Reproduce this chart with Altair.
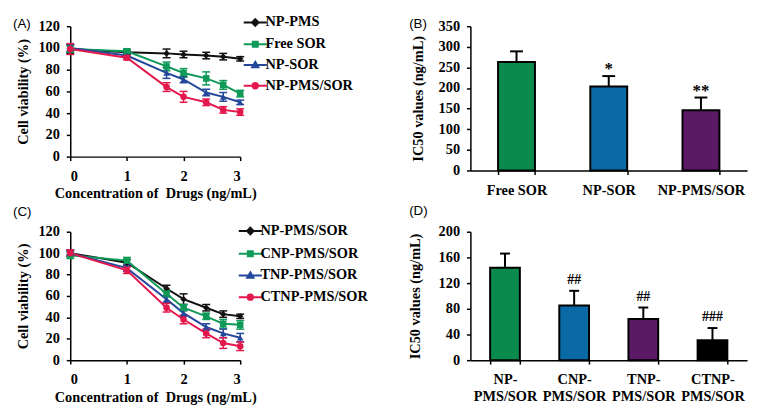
import altair as alt
import pandas as pd

# ---------------- data ----------------
conc = [0, 1, 1.7, 2, 2.4, 2.7, 3]

series_a = ["NP-PMS", "Free SOR", "NP-SOR", "NP-PMS/SOR"]
a_np_pms = [99, 96, 95, 94, 93, 92, 90]
a_np_pms_err = [4, 2, 4, 3, 3, 3, 2]
a_free_sor = [99, 97, 83, 77, 72, 66, 58]
a_free_sor_err = [3, 2, 4, 4, 6, 4, 3]
a_np_sor = [100, 93, 77, 71, 59, 55, 50]
a_np_sor_err = [3, 2, 5, 3, 3, 4, 2]
a_np_pms_sor = [99, 91, 64, 55, 50, 43, 41]
a_np_pms_sor_err = [5, 2, 4, 5, 3, 3, 3]

series_c = ["NP-PMS/SOR", "CNP-PMS/SOR", "TNP-PMS/SOR", "CTNP-PMS/SOR"]
c_np_pms_sor = [100, 91, 67, 57, 49, 43, 41]
c_np_pms_sor_err = [3, 3, 3, 5, 3, 3, 2]
c_cnp = [98, 93, 62, 49, 41, 34, 33]
c_cnp_err = [3, 3, 3, 3, 3, 4, 4]
c_tnp = [100, 86, 57, 44, 31, 25, 21]
c_tnp_err = [2, 3, 3, 3, 3, 4, 4]
c_ctnp = [100, 84, 49, 38, 25, 16, 13]
c_ctnp_err = [3, 3, 4, 4, 4, 5, 4]

b_cats = ["Free SOR", "NP-SOR", "NP-PMS/SOR"]
b_values = [263, 204, 146]
b_err = [26, 25, 31]
b_marks = ["", "*", "**"]

d_cats = ["NP-PMS/SOR", "CNP-PMS/SOR", "TNP-PMS/SOR", "CTNP-PMS/SOR"]
d_values = [144, 85, 64, 31]
d_err = [22, 23, 18, 19]
d_marks = ["", "##", "##", "###"]

line_colors = ["#111111", "#0f9a58", "#23479b", "#e3184c"]
bar_colors_b = ["#0a8a4c", "#0a6aa6", "#5c1a66"]
bar_colors_d = ["#0a8a4c", "#0a6aa6", "#5c1a66", "#000000"]
shapes = ["diamond", "square", "triangle-up", "circle"]
# legend glyphs: a line segment through the marker (marker drawn by nested strokes)
legend_paths = [
    "M-3.7,0H3.7M0,-1.05L1.05,0L0,1.05L-1.05,0ZM0,-0.45L0.45,0L0,0.45L-0.45,0Z",
    "M-3.7,0H3.7M-0.8,-0.8H0.8V0.8H-0.8ZM-0.3,-0.3H0.3V0.3H-0.3Z",
    "M-3.7,0H3.7M0,-1L1,0.7L-1,0.7ZM0,-0.3L0.4,0.4L-0.4,0.4Z",
    "M-3.7,0H3.7M0.85,0A0.85,0.85,0,1,1,-0.85,0A0.85,0.85,0,1,1,0.85,0ZM0.35,0A0.35,0.35,0,1,1,-0.35,0A0.35,0.35,0,1,1,0.35,0Z",
]

SERIF = "Liberation Serif"
FS = 14.5


def long_table(series, vals, errs):
    rows = []
    for s, v, e in zip(series, vals, errs):
        for x, yv, ev in zip(conc, v, e):
            rows.append({"conc": x, "value": yv, "lo": yv - ev, "hi": yv + ev, "series": s})
    return pd.DataFrame(rows)


def label_layer(txt, dx, dy):
    return alt.Chart(pd.DataFrame({"t": [txt]})).mark_text(
        font="Liberation Sans", fontSize=13.5, align="left", baseline="middle",
        color="black").encode(x=alt.value(dx), y=alt.value(dy), text="t:N")


def line_panel(df, series, letter, letter_y, leg_x, leg_y, row_pad, w, h):
    base = alt.Chart(df)
    xax = alt.Axis(values=[0, 1, 2, 3], title="Concentration of\u00a0 Drugs (ng/mL)",
                   labelPadding=9, titlePadding=4, format="d")
    yax = alt.Axis(values=[0, 20, 40, 60, 80, 100, 120], title="Cell viability (%)",
                   labelPadding=7, titlePadding=8)
    xs = alt.Scale(domain=[0, 3], nice=False)
    ys = alt.Scale(domain=[0, 120], nice=False)
    X = alt.X("conc:Q", scale=xs, axis=xax)
    Y = alt.Y("value:Q", scale=ys, axis=yax)
    Ylo = alt.Y("lo:Q", scale=ys, axis=yax)
    Yhi = alt.Y("hi:Q", scale=ys, axis=yax)

    layers = []
    for s, c, shp in zip(series, line_colors, shapes):
        sb = base.transform_filter(alt.datum.series == s)
        layers.append(sb.mark_line(strokeWidth=2, color=c).encode(X, Y, order="conc:Q"))
        layers.append(sb.mark_rule(strokeWidth=1.5, color=c).encode(X, Ylo, y2="hi:Q"))
        layers.append(sb.mark_tick(orient="horizontal", size=8, thickness=1.5, color=c,
                                   opacity=1).encode(X, Ylo))
        layers.append(sb.mark_tick(orient="horizontal", size=8, thickness=1.5, color=c,
                                   opacity=1).encode(X, Yhi))
    for s, c, shp in zip(series, line_colors, shapes):
        sb = base.transform_filter(alt.datum.series == s)
        layers.append(sb.mark_point(filled=True, size=44, opacity=1, shape=shp, color=c)
                      .encode(X, Y))
    leg = alt.Legend(title=None, orient="none", legendX=leg_x, legendY=leg_y,
                     symbolSize=40, symbolStrokeWidth=2, symbolOpacity=1,
                     labelOffset=3, rowPadding=row_pad, padding=0,
                     labelFont=SERIF, labelFontWeight="bold", labelFontSize=FS,
                     labelColor="black")
    # legend-only layer: draws no marks (all rows filtered out), only supplies the legend
    layers.append(base.transform_filter(alt.datum.conc < 0).mark_point(
        filled=True, size=40, strokeWidth=2, opacity=1).encode(
        X, Y,
        fill=alt.Fill("series:N", scale=alt.Scale(domain=series, range=line_colors), legend=leg),
        stroke=alt.Stroke("series:N", scale=alt.Scale(domain=series, range=line_colors), legend=leg),
        shape=alt.Shape("series:N", scale=alt.Scale(domain=series, range=legend_paths),
                        legend=leg),
    ))
    layers.append(label_layer(letter, -58, letter_y))
    return alt.layer(*layers).properties(width=w, height=h)


def bar_panel(cats, vals, errs, marks, colors, ymax, ystep, letter, letter_y, w, h, pin,
              title_pad, two_line, cap, star_dy, star_fs):
    df = pd.DataFrame({"cat": cats, "value": vals,
                       "hi": [v + e for v, e in zip(vals, errs)], "mark": marks})
    base = alt.Chart(df)
    if two_line:
        xax = alt.Axis(title=None, labelAngle=0, tickBand="extent", labelPadding=9,
                       labelLineHeight=17,
                       labelExpr="[slice(datum.label,0,indexof(datum.label,'-')+1), "
                                 "slice(datum.label,indexof(datum.label,'-')+1)]")
    else:
        xax = alt.Axis(title=None, labelAngle=0, tickBand="extent", labelPadding=9)
    X = alt.X("cat:N", sort=cats, scale=alt.Scale(paddingInner=pin, paddingOuter=pin / 2),
              axis=xax)
    ys = alt.Scale(domain=[0, ymax], nice=False)
    yax = alt.Axis(values=list(range(0, ymax + 1, ystep)), title="IC50 values (ng/mL)",
                   labelPadding=7, titlePadding=title_pad)
    bars = base.mark_bar(stroke="black", strokeWidth=2).encode(
        X, alt.Y("value:Q", scale=ys, axis=yax),
        color=alt.Color("cat:N", scale=alt.Scale(domain=cats, range=colors), legend=None))
    rule = base.mark_rule(strokeWidth=2, color="black").encode(
        X, alt.Y("value:Q", scale=ys, axis=yax), y2="hi:Q")
    capm = base.mark_tick(orient="horizontal", size=cap, thickness=2, color="black",
                          opacity=1).encode(X, alt.Y("hi:Q", scale=ys, axis=yax))
    stars = base.mark_text(font=SERIF, fontWeight="bold", fontSize=star_fs,
                           baseline="alphabetic", dy=star_dy, color="black").encode(
        X, alt.Y("hi:Q", scale=ys, axis=yax), text="mark:N")
    return alt.layer(bars, rule, capm, stars, label_layer(letter, -62, letter_y)
                     ).properties(width=w, height=h)


dfA = long_table(series_a, [a_np_pms, a_free_sor, a_np_sor, a_np_pms_sor],
                 [a_np_pms_err, a_free_sor_err, a_np_sor_err, a_np_pms_sor_err])
dfC = long_table(series_c, [c_np_pms_sor, c_cnp, c_tnp, c_ctnp],
                 [c_np_pms_sor_err, c_cnp_err, c_tnp_err, c_ctnp_err])

panelA = line_panel(dfA, series_a, "(A)", -2, 180, -11, 6, 172, 132)
panelC = line_panel(dfC, series_c, "(C)", -20, 175, -8, 7, 172, 130)
panelB = bar_panel(b_cats, b_values, b_err, b_marks, bar_colors_b, 350, 50, "(B)", -2,
                   280, 146, 0.6, 13, False, 13, -2, 17)
panelD = bar_panel(d_cats, d_values, d_err, d_marks, bar_colors_d, 200, 40, "(D)", -21,
                   280, 130, 0.57, 16, True, 10, -7, 14)

chart = alt.concat(panelA, panelB, panelC, panelD, columns=2,
                   spacing={"row": 62, "column": 233}, bounds="flush").resolve_scale(
    color="independent", shape="independent", fill="independent", stroke="independent"
).configure_view(stroke=None).configure_axis(
    grid=False, domainColor="black", tickColor="black", domainWidth=1.5, tickWidth=1.5,
    tickSize=4, labelFont=SERIF, labelFontWeight="bold", labelFontSize=FS,
    labelColor="black", titleFont=SERIF, titleFontWeight="bold", titleFontSize=FS,
    titleColor="black"
).properties(background="white")

chart.save("out.html", embed_options={"renderer": "svg", "actions": False})
